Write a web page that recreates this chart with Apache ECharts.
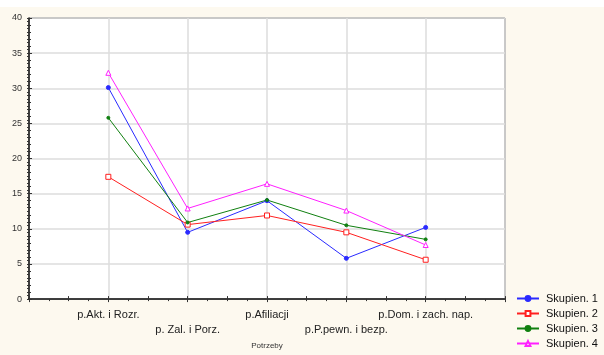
<!DOCTYPE html>
<html>
<head>
<meta charset="utf-8">
<script src="https://cdn.jsdelivr.net/npm/echarts@6/dist/echarts.min.js"></script>
<style>
  html, body { margin: 0; padding: 0; background: #fff; }
  #chart { width: 604px; height: 355px; }
</style>
</head>
<body>
<div id="chart"></div>
<script>
// categories (Potrzeby)
const categories = ['p.Akt. i Rozr.', 'p. Zal. i Porz.', 'p.Afiliacji', 'p.P.pewn. i bezp.', 'p.Dom. i zach. nap.'];
const seriesNames = ['Skupien. 1', 'Skupien. 2', 'Skupien. 3', 'Skupien. 4'];
const skupien1 = [30.1, 9.5, 14.0, 5.8, 10.2];
const skupien2 = [17.4, 10.6, 11.9, 9.5, 5.6];
const skupien3 = [25.8, 10.9, 14.1, 10.5, 8.5];
const skupien4 = [32.2, 12.9, 16.4, 12.6, 7.7];
const yTicks = [0, 5, 10, 15, 20, 25, 30, 35, 40];

const colors = ['#2a2aff', '#ff2020', '#108010', '#ff20ff'];
const symbols = ['circle', 'rect', 'circle', 'triangle'];
const symbolSizes = [4, 5, 3, 5];
const hollow = [false, true, false, true];

const chart = echarts.init(document.getElementById('chart'));

function toPoints(arr) {
    return arr.map(function (v, i) { return [i + 1, v]; });
}

const allData = [skupien1, skupien2, skupien3, skupien4];

const series = allData.map(function (d, k) {
    return {
        name: seriesNames[k],
        type: 'line',
        data: toPoints(d),
        symbol: symbols[k],
        symbolSize: symbolSizes[k],
        showSymbol: true,
        animation: false,
        lineStyle: { width: 1, color: colors[k] },
        itemStyle: {
            color: hollow[k] ? '#fff' : colors[k],
            borderColor: colors[k],
            borderWidth: 1
        },
        emphasis: { disabled: true }
    };
});

const option = {
    backgroundColor: '#fdf9ef',
    animation: false,
    graphic: [{
        type: 'rect',
        shape: { x: 0, y: 0, width: 604, height: 7 },
        style: { fill: '#fff' },
        silent: true
    }],
    grid: {
        left: 29,
        right: 99,
        top: 18,
        bottom: 52,
        show: true,
        backgroundColor: '#fff',
        borderColor: '#222',
        borderWidth: 1
    },
    legend: {
        orient: 'vertical',
        left: 516,
        top: 293,
        padding: 0,
        itemGap: 4,
        itemWidth: 22,
        itemHeight: 6,
        data: seriesNames,
        textStyle: { fontFamily: 'Liberation Sans', fontSize: 11, color: '#111', padding: [0, 0, 0, 2] }
    },
    xAxis: [{
        type: 'value',
        min: 0,
        max: 6,
        interval: 1,
        name: 'Potrzeby',
        nameLocation: 'middle',
        nameGap: 42,
        nameTextStyle: { fontFamily: 'Liberation Sans', fontSize: 8, color: '#333' },
        axisLine: { show: true, lineStyle: { color: '#111', width: 1.5 } },
        axisTick: { show: true, inside: true, length: 3, lineStyle: { color: '#333' } },
        minorTick: { show: true, splitNumber: 2, length: 3, lineStyle: { color: '#333' } },
        splitLine: { show: true, lineStyle: { color: '#dcdcdc', width: 1.5 } },
        axisLabel: {
            fontFamily: 'Liberation Sans',
            fontSize: 11,
            color: '#222',
            margin: 8,
            lineHeight: 15,
            formatter: function (v) {
                if (v < 1 || v > categories.length) return '';
                const name = categories[v - 1];
                return (v % 2 === 0) ? '\n' + name : name;
            }
        }
    }, {
        type: 'value',
        position: 'top',
        min: 0,
        max: 6,
        interval: 1,
        axisLine: { show: false },
        axisTick: { show: true, inside: true, length: 3, lineStyle: { color: '#333' } },
        minorTick: { show: true, splitNumber: 4, length: 2, lineStyle: { color: '#333' } },
        splitLine: { show: false },
        axisLabel: { show: false }
    }],
    yAxis: [{
        type: 'value',
        min: 0,
        max: 40,
        interval: 5,
        axisLine: { show: true, lineStyle: { color: '#111', width: 1.5 } },
        axisTick: { show: true, inside: true, length: 3, lineStyle: { color: '#333' } },
        minorTick: { show: true, splitNumber: 5, length: 2, lineStyle: { color: '#333' } },
        splitLine: { show: true, lineStyle: { color: '#dcdcdc', width: 1.5 } },
        axisLabel: {
            fontFamily: 'Liberation Sans',
            fontSize: 9,
            color: '#333',
            margin: 7,
            formatter: function (v) { return yTicks.indexOf(v) >= 0 ? String(v) : ''; }
        }
    }, {
        type: 'value',
        position: 'right',
        min: 0,
        max: 40,
        interval: 5,
        axisLine: { show: false },
        axisTick: { show: true, inside: true, length: 2, lineStyle: { color: '#333' } },
        minorTick: { show: true, splitNumber: 10, length: 2, lineStyle: { color: '#333' } },
        splitLine: { show: false },
        axisLabel: { show: false }
    }],
    series: series
};

chart.setOption(option);
</script>
</body>
</html>
